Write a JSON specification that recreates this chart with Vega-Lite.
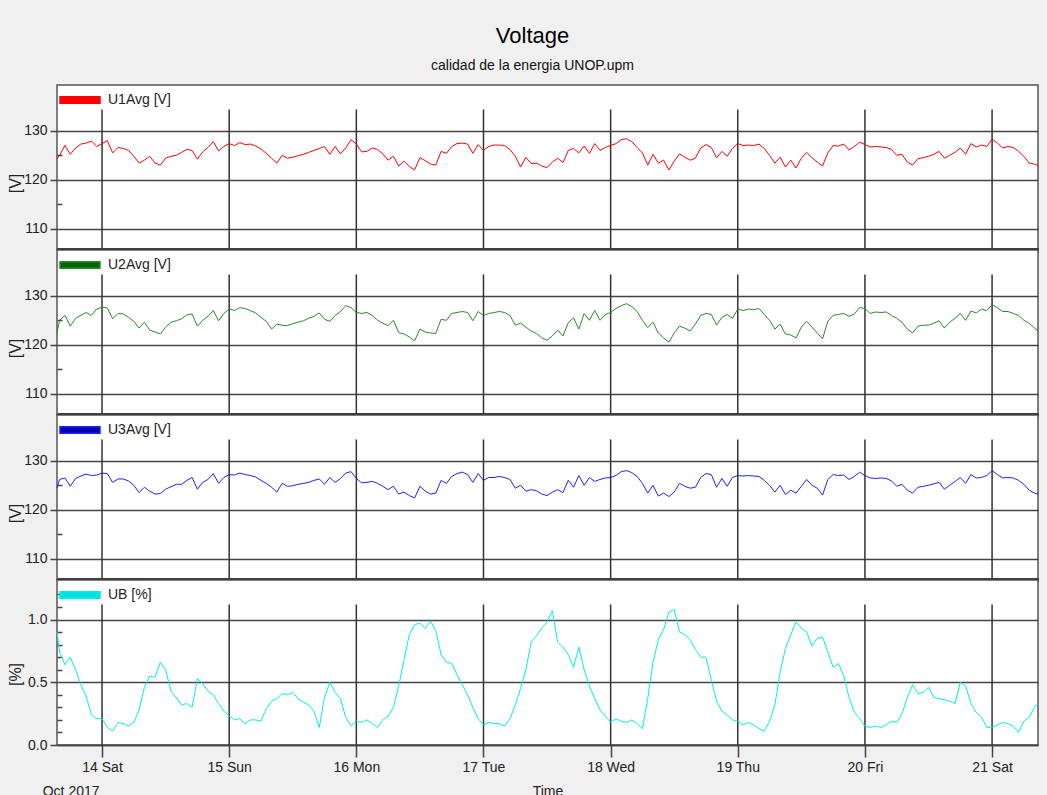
{
"$schema": "https://vega.github.io/schema/vega-lite/v6.json",
"background": "#f0f0f0",
"padding": {"left": 6, "top": 25, "right": 9, "bottom": 0},
"bounds": "flush",
"spacing": 0,
"title": {"text": "Voltage", "subtitle": "calidad de la energia UNOP.upm", "anchor": "middle", "frame": "group", "dx": -15, "font": "Liberation Sans, sans-serif", "fontSize": 22, "fontWeight": "normal", "color": "#000", "subtitleFont": "Liberation Sans, sans-serif", "subtitleFontSize": 14, "subtitleColor": "#111", "subtitlePadding": 11, "offset": 4},
"config": {
  "font": "Liberation Sans, sans-serif",
  "view": {"stroke": "#555", "strokeWidth": 1.5, "fill": "white"},
  "axis": {"labelFont": "Liberation Sans, sans-serif", "labelFontSize": 14, "labelColor": "#222", "titleFont": "Liberation Sans, sans-serif", "titleFontSize": 16, "titleFontWeight": "normal", "titleColor": "#222", "tickColor": "#444", "tickWidth": 1.5, "gridColor": "#444", "gridWidth": 1.5, "domain": false},
  "legend": {"labelFont": "Liberation Sans, sans-serif", "labelFontSize": 14, "labelColor": "#222"}
},
"resolve": {"scale": {"color": "independent"}, "legend": {"color": "independent"}},
"datasets": {
"days": [{"d":"2017-10-14T00:00"},{"d":"2017-10-15T00:00"},{"d":"2017-10-16T00:00"},{"d":"2017-10-17T00:00"},{"d":"2017-10-18T00:00"},{"d":"2017-10-19T00:00"},{"d":"2017-10-20T00:00"},{"d":"2017-10-21T00:00"}],
"notes": [{"t":"2017-10-13T18:10","label":"Oct 2017"}],
"v": [
{"t":"2017-10-13T15:30","u1":124.3,"u2":122.5,"u3":124.5,"ub":0.90},
{"t":"2017-10-13T16:00","u1":125.0,"u2":125.0,"u3":126.2,"ub":0.74},
{"t":"2017-10-13T17:00","u1":127.0,"u2":126.0,"u3":126.5,"ub":0.64},
{"t":"2017-10-13T18:00","u1":125.2,"u2":123.8,"u3":124.8,"ub":0.70},
{"t":"2017-10-13T19:00","u1":126.5,"u2":125.4,"u3":126.4,"ub":0.60},
{"t":"2017-10-13T20:00","u1":127.3,"u2":126.0,"u3":126.9,"ub":0.48},
{"t":"2017-10-13T21:00","u1":127.5,"u2":126.6,"u3":127.3,"ub":0.39},
{"t":"2017-10-13T22:00","u1":127.9,"u2":126.0,"u3":127.0,"ub":0.24},
{"t":"2017-10-13T23:00","u1":126.8,"u2":127.3,"u3":127.1,"ub":0.21},
{"t":"2017-10-14T00:00","u1":127.4,"u2":127.7,"u3":127.5,"ub":0.21},
{"t":"2017-10-14T01:00","u1":128.0,"u2":127.5,"u3":127.4,"ub":0.14},
{"t":"2017-10-14T02:00","u1":125.5,"u2":125.3,"u3":125.6,"ub":0.11},
{"t":"2017-10-14T03:00","u1":126.6,"u2":126.4,"u3":126.3,"ub":0.18},
{"t":"2017-10-14T04:00","u1":126.4,"u2":126.3,"u3":126.3,"ub":0.17},
{"t":"2017-10-14T05:00","u1":126.0,"u2":125.6,"u3":125.9,"ub":0.15},
{"t":"2017-10-14T06:00","u1":124.8,"u2":124.8,"u3":125.0,"ub":0.18},
{"t":"2017-10-14T07:00","u1":123.4,"u2":123.4,"u3":123.5,"ub":0.28},
{"t":"2017-10-14T08:00","u1":124.0,"u2":124.6,"u3":124.6,"ub":0.46},
{"t":"2017-10-14T09:00","u1":124.8,"u2":123.0,"u3":123.8,"ub":0.55},
{"t":"2017-10-14T10:00","u1":123.4,"u2":122.6,"u3":123.2,"ub":0.54},
{"t":"2017-10-14T11:00","u1":123.0,"u2":122.2,"u3":123.3,"ub":0.66},
{"t":"2017-10-14T12:00","u1":124.4,"u2":123.6,"u3":124.2,"ub":0.60},
{"t":"2017-10-14T13:00","u1":124.8,"u2":124.6,"u3":124.7,"ub":0.43},
{"t":"2017-10-14T14:00","u1":125.0,"u2":124.9,"u3":125.2,"ub":0.38},
{"t":"2017-10-14T15:00","u1":125.6,"u2":125.3,"u3":125.2,"ub":0.32},
{"t":"2017-10-14T16:00","u1":126.2,"u2":126.1,"u3":126.0,"ub":0.33},
{"t":"2017-10-14T17:00","u1":126.0,"u2":126.3,"u3":126.6,"ub":0.30},
{"t":"2017-10-14T18:00","u1":124.2,"u2":123.8,"u3":124.2,"ub":0.53},
{"t":"2017-10-14T19:00","u1":125.7,"u2":125.0,"u3":125.6,"ub":0.49},
{"t":"2017-10-14T20:00","u1":126.6,"u2":125.8,"u3":126.2,"ub":0.43},
{"t":"2017-10-14T21:00","u1":127.8,"u2":127.0,"u3":127.4,"ub":0.40},
{"t":"2017-10-14T22:00","u1":125.9,"u2":124.9,"u3":125.4,"ub":0.33},
{"t":"2017-10-14T23:00","u1":126.8,"u2":126.4,"u3":126.6,"ub":0.27},
{"t":"2017-10-15T00:00","u1":127.4,"u2":127.3,"u3":127.2,"ub":0.23},
{"t":"2017-10-15T01:00","u1":127.0,"u2":127.0,"u3":127.1,"ub":0.20},
{"t":"2017-10-15T02:00","u1":127.6,"u2":127.6,"u3":127.5,"ub":0.21},
{"t":"2017-10-15T03:00","u1":127.2,"u2":127.4,"u3":127.2,"ub":0.17},
{"t":"2017-10-15T04:00","u1":127.3,"u2":127.0,"u3":127.0,"ub":0.20},
{"t":"2017-10-15T05:00","u1":126.9,"u2":126.5,"u3":126.7,"ub":0.20},
{"t":"2017-10-15T06:00","u1":126.3,"u2":125.6,"u3":126.0,"ub":0.19},
{"t":"2017-10-15T07:00","u1":125.4,"u2":124.8,"u3":125.4,"ub":0.29},
{"t":"2017-10-15T08:00","u1":124.4,"u2":123.2,"u3":124.6,"ub":0.35},
{"t":"2017-10-15T09:00","u1":123.4,"u2":124.2,"u3":123.6,"ub":0.37},
{"t":"2017-10-15T10:00","u1":125.0,"u2":124.0,"u3":125.4,"ub":0.41},
{"t":"2017-10-15T11:00","u1":124.4,"u2":123.9,"u3":124.8,"ub":0.40},
{"t":"2017-10-15T12:00","u1":124.6,"u2":124.3,"u3":124.9,"ub":0.42},
{"t":"2017-10-15T13:00","u1":124.9,"u2":124.6,"u3":125.2,"ub":0.37},
{"t":"2017-10-15T14:00","u1":125.2,"u2":124.9,"u3":125.4,"ub":0.34},
{"t":"2017-10-15T15:00","u1":125.6,"u2":125.4,"u3":125.6,"ub":0.32},
{"t":"2017-10-15T16:00","u1":126.0,"u2":125.8,"u3":126.0,"ub":0.27},
{"t":"2017-10-15T17:00","u1":126.4,"u2":126.5,"u3":126.3,"ub":0.14},
{"t":"2017-10-15T18:00","u1":126.8,"u2":125.2,"u3":125.2,"ub":0.38},
{"t":"2017-10-15T19:00","u1":125.2,"u2":124.8,"u3":126.6,"ub":0.50},
{"t":"2017-10-15T20:00","u1":126.8,"u2":126.0,"u3":125.6,"ub":0.42},
{"t":"2017-10-15T21:00","u1":125.3,"u2":126.8,"u3":126.4,"ub":0.37},
{"t":"2017-10-15T22:00","u1":126.5,"u2":128.0,"u3":127.5,"ub":0.22},
{"t":"2017-10-15T23:00","u1":128.2,"u2":127.6,"u3":127.8,"ub":0.15},
{"t":"2017-10-16T00:00","u1":127.3,"u2":126.6,"u3":126.4,"ub":0.19},
{"t":"2017-10-16T01:00","u1":125.7,"u2":126.4,"u3":125.5,"ub":0.18},
{"t":"2017-10-16T02:00","u1":125.8,"u2":126.6,"u3":125.6,"ub":0.20},
{"t":"2017-10-16T03:00","u1":126.5,"u2":126.0,"u3":125.8,"ub":0.17},
{"t":"2017-10-16T04:00","u1":126.2,"u2":125.0,"u3":125.4,"ub":0.14},
{"t":"2017-10-16T05:00","u1":125.3,"u2":124.4,"u3":124.8,"ub":0.20},
{"t":"2017-10-16T06:00","u1":124.0,"u2":123.9,"u3":124.1,"ub":0.23},
{"t":"2017-10-16T07:00","u1":124.8,"u2":125.0,"u3":124.8,"ub":0.30},
{"t":"2017-10-16T08:00","u1":122.8,"u2":122.5,"u3":123.2,"ub":0.47},
{"t":"2017-10-16T09:00","u1":123.8,"u2":122.2,"u3":123.6,"ub":0.68},
{"t":"2017-10-16T10:00","u1":122.7,"u2":121.6,"u3":122.9,"ub":0.88},
{"t":"2017-10-16T11:00","u1":122.0,"u2":120.8,"u3":122.4,"ub":0.96},
{"t":"2017-10-16T12:00","u1":124.5,"u2":123.2,"u3":124.8,"ub":0.97},
{"t":"2017-10-16T13:00","u1":123.9,"u2":122.6,"u3":123.8,"ub":0.93},
{"t":"2017-10-16T14:00","u1":123.2,"u2":122.4,"u3":123.2,"ub":0.99},
{"t":"2017-10-16T15:00","u1":123.0,"u2":122.3,"u3":123.4,"ub":0.91},
{"t":"2017-10-16T16:00","u1":125.8,"u2":125.2,"u3":126.0,"ub":0.72},
{"t":"2017-10-16T17:00","u1":125.4,"u2":125.0,"u3":125.4,"ub":0.66},
{"t":"2017-10-16T18:00","u1":126.8,"u2":126.4,"u3":126.8,"ub":0.65},
{"t":"2017-10-16T19:00","u1":127.4,"u2":126.6,"u3":127.4,"ub":0.56},
{"t":"2017-10-16T20:00","u1":127.5,"u2":126.8,"u3":127.7,"ub":0.48},
{"t":"2017-10-16T21:00","u1":127.3,"u2":126.6,"u3":127.2,"ub":0.40},
{"t":"2017-10-16T22:00","u1":125.4,"u2":124.9,"u3":125.6,"ub":0.30},
{"t":"2017-10-16T23:00","u1":127.2,"u2":126.8,"u3":127.4,"ub":0.21},
{"t":"2017-10-17T00:00","u1":126.0,"u2":126.0,"u3":126.0,"ub":0.16},
{"t":"2017-10-17T01:00","u1":126.8,"u2":126.4,"u3":126.6,"ub":0.18},
{"t":"2017-10-17T02:00","u1":127.1,"u2":126.6,"u3":126.6,"ub":0.17},
{"t":"2017-10-17T03:00","u1":127.1,"u2":126.8,"u3":126.8,"ub":0.17},
{"t":"2017-10-17T04:00","u1":127.0,"u2":126.6,"u3":126.6,"ub":0.15},
{"t":"2017-10-17T05:00","u1":126.2,"u2":126.0,"u3":126.2,"ub":0.21},
{"t":"2017-10-17T06:00","u1":124.8,"u2":124.0,"u3":124.4,"ub":0.32},
{"t":"2017-10-17T07:00","u1":122.6,"u2":124.4,"u3":125.0,"ub":0.45},
{"t":"2017-10-17T08:00","u1":124.6,"u2":123.6,"u3":123.8,"ub":0.60},
{"t":"2017-10-17T09:00","u1":123.3,"u2":122.8,"u3":124.1,"ub":0.82},
{"t":"2017-10-17T10:00","u1":123.4,"u2":122.3,"u3":123.9,"ub":0.87},
{"t":"2017-10-17T11:00","u1":122.8,"u2":121.4,"u3":123.2,"ub":0.93},
{"t":"2017-10-17T12:00","u1":122.5,"u2":120.9,"u3":122.9,"ub":0.98},
{"t":"2017-10-17T13:00","u1":123.6,"u2":121.8,"u3":123.6,"ub":1.07},
{"t":"2017-10-17T14:00","u1":124.4,"u2":123.0,"u3":124.1,"ub":0.82},
{"t":"2017-10-17T15:00","u1":123.5,"u2":121.8,"u3":123.5,"ub":0.78},
{"t":"2017-10-17T16:00","u1":126.0,"u2":124.5,"u3":126.0,"ub":0.72},
{"t":"2017-10-17T17:00","u1":126.4,"u2":125.5,"u3":124.6,"ub":0.62},
{"t":"2017-10-17T18:00","u1":125.5,"u2":123.2,"u3":127.0,"ub":0.78},
{"t":"2017-10-17T19:00","u1":126.9,"u2":126.4,"u3":125.0,"ub":0.60},
{"t":"2017-10-17T20:00","u1":125.4,"u2":125.0,"u3":126.6,"ub":0.47},
{"t":"2017-10-17T21:00","u1":127.4,"u2":127.0,"u3":125.8,"ub":0.37},
{"t":"2017-10-17T22:00","u1":126.0,"u2":125.0,"u3":126.2,"ub":0.28},
{"t":"2017-10-17T23:00","u1":126.6,"u2":126.2,"u3":126.5,"ub":0.23},
{"t":"2017-10-18T00:00","u1":127.0,"u2":126.6,"u3":126.6,"ub":0.18},
{"t":"2017-10-18T01:00","u1":127.4,"u2":127.4,"u3":127.0,"ub":0.21},
{"t":"2017-10-18T02:00","u1":128.2,"u2":128.0,"u3":127.8,"ub":0.19},
{"t":"2017-10-18T03:00","u1":128.4,"u2":128.4,"u3":128.0,"ub":0.18},
{"t":"2017-10-18T04:00","u1":127.8,"u2":127.8,"u3":127.6,"ub":0.20},
{"t":"2017-10-18T05:00","u1":126.6,"u2":126.8,"u3":126.8,"ub":0.17},
{"t":"2017-10-18T06:00","u1":125.5,"u2":125.0,"u3":125.4,"ub":0.13},
{"t":"2017-10-18T07:00","u1":123.0,"u2":123.5,"u3":123.4,"ub":0.37},
{"t":"2017-10-18T08:00","u1":125.2,"u2":124.6,"u3":125.0,"ub":0.66},
{"t":"2017-10-18T09:00","u1":123.4,"u2":122.4,"u3":122.8,"ub":0.84},
{"t":"2017-10-18T10:00","u1":124.0,"u2":121.4,"u3":123.4,"ub":0.92},
{"t":"2017-10-18T11:00","u1":122.0,"u2":120.5,"u3":122.7,"ub":1.06},
{"t":"2017-10-18T12:00","u1":123.8,"u2":122.4,"u3":123.6,"ub":1.08},
{"t":"2017-10-18T13:00","u1":125.3,"u2":123.8,"u3":125.4,"ub":0.90},
{"t":"2017-10-18T14:00","u1":124.6,"u2":123.4,"u3":124.8,"ub":0.88},
{"t":"2017-10-18T15:00","u1":124.0,"u2":122.8,"u3":124.4,"ub":0.84},
{"t":"2017-10-18T16:00","u1":124.4,"u2":124.2,"u3":124.6,"ub":0.76},
{"t":"2017-10-18T17:00","u1":126.5,"u2":126.0,"u3":126.6,"ub":0.70},
{"t":"2017-10-18T18:00","u1":127.2,"u2":126.4,"u3":127.4,"ub":0.70},
{"t":"2017-10-18T19:00","u1":126.6,"u2":126.2,"u3":127.2,"ub":0.52},
{"t":"2017-10-18T20:00","u1":124.5,"u2":124.0,"u3":124.6,"ub":0.35},
{"t":"2017-10-18T21:00","u1":125.8,"u2":125.6,"u3":126.4,"ub":0.27},
{"t":"2017-10-18T22:00","u1":124.8,"u2":126.2,"u3":124.8,"ub":0.24},
{"t":"2017-10-18T23:00","u1":126.4,"u2":125.4,"u3":126.6,"ub":0.20},
{"t":"2017-10-19T00:00","u1":127.4,"u2":127.3,"u3":127.0,"ub":0.19},
{"t":"2017-10-19T01:00","u1":127.0,"u2":127.0,"u3":126.9,"ub":0.16},
{"t":"2017-10-19T02:00","u1":127.1,"u2":127.3,"u3":127.0,"ub":0.18},
{"t":"2017-10-19T03:00","u1":127.0,"u2":127.2,"u3":126.9,"ub":0.16},
{"t":"2017-10-19T04:00","u1":127.3,"u2":127.4,"u3":126.8,"ub":0.13},
{"t":"2017-10-19T05:00","u1":126.4,"u2":126.2,"u3":126.0,"ub":0.11},
{"t":"2017-10-19T06:00","u1":125.0,"u2":125.0,"u3":125.0,"ub":0.19},
{"t":"2017-10-19T07:00","u1":123.4,"u2":123.2,"u3":123.6,"ub":0.32},
{"t":"2017-10-19T08:00","u1":124.6,"u2":124.2,"u3":125.0,"ub":0.58},
{"t":"2017-10-19T09:00","u1":122.6,"u2":122.2,"u3":123.1,"ub":0.77},
{"t":"2017-10-19T10:00","u1":124.0,"u2":122.0,"u3":124.0,"ub":0.88},
{"t":"2017-10-19T11:00","u1":122.4,"u2":121.4,"u3":123.4,"ub":0.98},
{"t":"2017-10-19T12:00","u1":124.4,"u2":123.6,"u3":124.8,"ub":0.93},
{"t":"2017-10-19T13:00","u1":125.6,"u2":124.8,"u3":126.2,"ub":0.90},
{"t":"2017-10-19T14:00","u1":124.5,"u2":123.6,"u3":125.0,"ub":0.79},
{"t":"2017-10-19T15:00","u1":123.6,"u2":122.4,"u3":124.4,"ub":0.85},
{"t":"2017-10-19T16:00","u1":122.8,"u2":121.2,"u3":123.0,"ub":0.86},
{"t":"2017-10-19T17:00","u1":125.5,"u2":124.8,"u3":126.2,"ub":0.74},
{"t":"2017-10-19T18:00","u1":127.0,"u2":126.0,"u3":127.2,"ub":0.62},
{"t":"2017-10-19T19:00","u1":126.9,"u2":126.2,"u3":127.0,"ub":0.65},
{"t":"2017-10-19T20:00","u1":127.3,"u2":126.4,"u3":127.1,"ub":0.55},
{"t":"2017-10-19T21:00","u1":126.1,"u2":125.8,"u3":126.2,"ub":0.38},
{"t":"2017-10-19T22:00","u1":126.8,"u2":126.3,"u3":126.8,"ub":0.26},
{"t":"2017-10-19T23:00","u1":127.7,"u2":127.6,"u3":127.7,"ub":0.21},
{"t":"2017-10-20T00:00","u1":127.2,"u2":127.4,"u3":127.0,"ub":0.15},
{"t":"2017-10-20T01:00","u1":126.7,"u2":126.4,"u3":126.5,"ub":0.14},
{"t":"2017-10-20T02:00","u1":126.8,"u2":126.7,"u3":126.4,"ub":0.15},
{"t":"2017-10-20T03:00","u1":126.7,"u2":126.6,"u3":126.5,"ub":0.14},
{"t":"2017-10-20T04:00","u1":126.6,"u2":126.7,"u3":126.4,"ub":0.16},
{"t":"2017-10-20T05:00","u1":126.2,"u2":126.0,"u3":125.9,"ub":0.19},
{"t":"2017-10-20T06:00","u1":125.0,"u2":125.4,"u3":124.8,"ub":0.18},
{"t":"2017-10-20T07:00","u1":125.2,"u2":124.6,"u3":125.2,"ub":0.25},
{"t":"2017-10-20T08:00","u1":123.6,"u2":123.2,"u3":124.0,"ub":0.38},
{"t":"2017-10-20T09:00","u1":123.0,"u2":122.4,"u3":123.4,"ub":0.48},
{"t":"2017-10-20T10:00","u1":124.3,"u2":123.8,"u3":124.6,"ub":0.41},
{"t":"2017-10-20T11:00","u1":124.5,"u2":124.0,"u3":124.8,"ub":0.42},
{"t":"2017-10-20T12:00","u1":124.8,"u2":124.0,"u3":125.0,"ub":0.46},
{"t":"2017-10-20T13:00","u1":125.2,"u2":124.4,"u3":125.3,"ub":0.38},
{"t":"2017-10-20T14:00","u1":125.8,"u2":124.9,"u3":125.6,"ub":0.37},
{"t":"2017-10-20T15:00","u1":124.4,"u2":123.4,"u3":124.2,"ub":0.36},
{"t":"2017-10-20T16:00","u1":125.0,"u2":124.6,"u3":125.0,"ub":0.35},
{"t":"2017-10-20T17:00","u1":125.6,"u2":125.4,"u3":125.8,"ub":0.33},
{"t":"2017-10-20T18:00","u1":126.5,"u2":126.4,"u3":126.6,"ub":0.50},
{"t":"2017-10-20T19:00","u1":125.2,"u2":125.0,"u3":125.4,"ub":0.47},
{"t":"2017-10-20T20:00","u1":127.4,"u2":126.9,"u3":127.2,"ub":0.33},
{"t":"2017-10-20T21:00","u1":126.7,"u2":126.5,"u3":126.5,"ub":0.26},
{"t":"2017-10-20T22:00","u1":127.1,"u2":127.3,"u3":126.6,"ub":0.22},
{"t":"2017-10-20T23:00","u1":126.8,"u2":127.0,"u3":127.0,"ub":0.14},
{"t":"2017-10-21T00:00","u1":128.3,"u2":128.2,"u3":128.0,"ub":0.14},
{"t":"2017-10-21T01:00","u1":127.5,"u2":127.6,"u3":127.2,"ub":0.16},
{"t":"2017-10-21T02:00","u1":126.5,"u2":126.8,"u3":126.5,"ub":0.18},
{"t":"2017-10-21T03:00","u1":126.8,"u2":126.8,"u3":126.6,"ub":0.17},
{"t":"2017-10-21T04:00","u1":126.6,"u2":126.4,"u3":126.5,"ub":0.15},
{"t":"2017-10-21T05:00","u1":125.8,"u2":126.0,"u3":126.0,"ub":0.10},
{"t":"2017-10-21T06:00","u1":124.8,"u2":125.0,"u3":125.2,"ub":0.19},
{"t":"2017-10-21T07:00","u1":123.4,"u2":124.4,"u3":124.0,"ub":0.22},
{"t":"2017-10-21T08:00","u1":123.2,"u2":123.4,"u3":123.4,"ub":0.30},
{"t":"2017-10-21T08:40","u1":122.9,"u2":122.9,"u3":123.2,"ub":0.33}
]
},
"vconcat": [
{
 "width": 981, "height": 165,
 "resolve": {"axis": {"y": "independent"}},
 "layer": [
  {"data": {"name": "days"}, "mark": {"type": "rule", "color": "#333", "strokeWidth": 1.5},
   "encoding": {
    "x": {"field": "d", "type": "temporal", "scale": {"domain": [{"year":2017,"month":10,"date":13,"hours":15,"minutes":30},{"year":2017,"month":10,"date":21,"hours":8,"minutes":40}]}, "axis": {"orient": "bottom", "domain": true, "domainColor": "#000", "domainWidth": 4.5, "ticks": false, "labels": false, "grid": false, "title": null}},
    "y": {"datum": 105.6, "type": "quantitative", "scale": {"domain": [105.6, 139.4], "nice": false, "zero": false}, "axis": {"orient": "left", "values": [115, 125], "labels": false, "grid": false, "tickSize": -5, "title": null}},
    "y2": {"datum": 134.4}}},
  {"data": {"name": "v"}, "mark": {"type": "line", "color": "#ff0000", "strokeWidth": 1},
   "encoding": {
    "x": {"field": "t", "type": "temporal", "axis": {"orient": "bottom", "domain": true, "domainColor": "#000", "domainWidth": 4.5, "ticks": false, "labels": false, "grid": false, "title": null}},
    "y": {"field": "u1", "type": "quantitative", "axis": {"orient": "left", "values": [110, 120, 130], "title": "[V]", "titleX": -37, "titleY": 98, "titleBaseline": "alphabetic", "grid": true, "tickSize": 7, "labelPadding": 3}},
    "color": {"datum": "U1Avg [V]", "type": "nominal", "scale": {"range": ["#ff0000"]}, "legend": {"orient": "none", "legendX": 2, "legendY": -6, "title": null, "padding": 0, "symbolType": "M-1,-0.16H1V0.16H-1Z", "symbolSize": 1600, "labelOffset": 7, "encode": {"symbols": {"update": {"fill": {"value": "#ff0000"}, "stroke": {"value": "#333"}, "strokeWidth": {"value": 1.5}}}}}}}}
 ]
},
{
 "width": 981, "height": 165,
 "resolve": {"axis": {"y": "independent"}},
 "layer": [
  {"data": {"name": "days"}, "mark": {"type": "rule", "color": "#333", "strokeWidth": 1.5},
   "encoding": {
    "x": {"field": "d", "type": "temporal", "scale": {"domain": [{"year":2017,"month":10,"date":13,"hours":15,"minutes":30},{"year":2017,"month":10,"date":21,"hours":8,"minutes":40}]}, "axis": {"orient": "bottom", "domain": true, "domainColor": "#000", "domainWidth": 4.5, "ticks": false, "labels": false, "grid": false, "title": null}},
    "y": {"datum": 105.6, "type": "quantitative", "scale": {"domain": [105.6, 139.4], "nice": false, "zero": false}, "axis": {"orient": "left", "values": [115, 125], "labels": false, "grid": false, "tickSize": -5, "title": null}},
    "y2": {"datum": 134.4}}},
  {"data": {"name": "v"}, "mark": {"type": "line", "color": "#2a8a2a", "strokeWidth": 1},
   "encoding": {
    "x": {"field": "t", "type": "temporal", "axis": {"orient": "bottom", "domain": true, "domainColor": "#000", "domainWidth": 4.5, "ticks": false, "labels": false, "grid": false, "title": null}},
    "y": {"field": "u2", "type": "quantitative", "axis": {"orient": "left", "values": [110, 120, 130], "title": "[V]", "titleX": -37, "titleY": 98, "titleBaseline": "alphabetic", "grid": true, "tickSize": 7, "labelPadding": 3}},
    "color": {"datum": "U2Avg [V]", "type": "nominal", "scale": {"range": ["#2a8a2a"]}, "legend": {"orient": "none", "legendX": 2, "legendY": -6, "title": null, "padding": 0, "symbolType": "M-1,-0.16H1V0.16H-1Z", "symbolSize": 1600, "labelOffset": 7, "encode": {"symbols": {"update": {"fill": {"value": "#006400"}, "stroke": {"value": "#333"}, "strokeWidth": {"value": 1.5}}}}}}}}
 ]
},
{
 "width": 981, "height": 165,
 "resolve": {"axis": {"y": "independent"}},
 "layer": [
  {"data": {"name": "days"}, "mark": {"type": "rule", "color": "#333", "strokeWidth": 1.5},
   "encoding": {
    "x": {"field": "d", "type": "temporal", "scale": {"domain": [{"year":2017,"month":10,"date":13,"hours":15,"minutes":30},{"year":2017,"month":10,"date":21,"hours":8,"minutes":40}]}, "axis": {"orient": "bottom", "domain": true, "domainColor": "#000", "domainWidth": 4.5, "ticks": false, "labels": false, "grid": false, "title": null}},
    "y": {"datum": 105.6, "type": "quantitative", "scale": {"domain": [105.6, 139.4], "nice": false, "zero": false}, "axis": {"orient": "left", "values": [115, 125], "labels": false, "grid": false, "tickSize": -5, "title": null}},
    "y2": {"datum": 134.4}}},
  {"data": {"name": "v"}, "mark": {"type": "line", "color": "#2020ff", "strokeWidth": 1},
   "encoding": {
    "x": {"field": "t", "type": "temporal", "axis": {"orient": "bottom", "domain": true, "domainColor": "#000", "domainWidth": 4.5, "ticks": false, "labels": false, "grid": false, "title": null}},
    "y": {"field": "u3", "type": "quantitative", "axis": {"orient": "left", "values": [110, 120, 130], "title": "[V]", "titleX": -37, "titleY": 98, "titleBaseline": "alphabetic", "grid": true, "tickSize": 7, "labelPadding": 3}},
    "color": {"datum": "U3Avg [V]", "type": "nominal", "scale": {"range": ["#2020ff"]}, "legend": {"orient": "none", "legendX": 2, "legendY": -6, "title": null, "padding": 0, "symbolType": "M-1,-0.16H1V0.16H-1Z", "symbolSize": 1600, "labelOffset": 7, "encode": {"symbols": {"update": {"fill": {"value": "#0000a8"}, "stroke": {"value": "#333"}, "strokeWidth": {"value": 1.5}}}}}}}}
 ]
},
{
 "width": 981, "height": 165,
 "resolve": {"axis": {"y": "independent"}},
 "layer": [
  {"data": {"name": "days"}, "mark": {"type": "rule", "color": "#333", "strokeWidth": 1.5},
   "encoding": {
    "x": {"field": "d", "type": "temporal", "scale": {"domain": [{"year":2017,"month":10,"date":13,"hours":15,"minutes":30},{"year":2017,"month":10,"date":21,"hours":8,"minutes":40}]}, "axis": {"orient": "bottom", "domain": true, "domainColor": "#444", "domainWidth": 1.5, "tickCount": {"interval": "day", "step": 1}, "format": "%d %a", "labelOverlap": false, "labelBound": false, "labelFlush": false, "tickSize": 12, "labelPadding": 3, "grid": false, "title": "Time", "titleFont": "Liberation Sans, sans-serif", "titleFontSize": 14, "titlePadding": 10}},
    "y": {"datum": 0, "type": "quantitative", "scale": {"domain": [0, 1.315], "nice": false, "zero": false}, "axis": {"orient": "left", "values": [0.1, 0.2, 0.3, 0.4, 0.6, 0.7, 0.8, 0.9, 1.1, 1.2], "labels": false, "grid": false, "tickSize": -5, "title": null}},
    "y2": {"datum": 1.12}}},
  {"data": {"name": "notes"}, "mark": {"type": "text", "fontSize": 14, "color": "#222", "align": "center", "baseline": "middle", "clip": false},
   "encoding": {
    "x": {"field": "t", "type": "temporal"},
    "y": {"datum": -0.375, "type": "quantitative", "axis": null},
    "text": {"field": "label"}}},
  {"data": {"name": "v"}, "mark": {"type": "line", "color": "#00eeee", "strokeWidth": 1},
   "encoding": {
    "x": {"field": "t", "type": "temporal", "axis": {"orient": "bottom", "domain": true, "domainColor": "#444", "domainWidth": 1.5, "tickCount": {"interval": "day", "step": 1}, "format": "%d %a", "labelOverlap": false, "labelBound": false, "labelFlush": false, "tickSize": 12, "labelPadding": 3, "grid": false, "title": "Time", "titleFont": "Liberation Sans, sans-serif", "titleFontSize": 14, "titlePadding": 10}},
    "y": {"field": "ub", "type": "quantitative", "axis": {"orient": "left", "values": [0, 0.5, 1.0], "format": ".1f", "title": "[%]", "titleX": -37, "titleY": 94, "titleBaseline": "alphabetic", "grid": true, "tickSize": 7, "labelPadding": 3}},
    "color": {"datum": "UB [%]", "type": "nominal", "scale": {"range": ["#00eeee"]}, "legend": {"orient": "none", "legendX": 2, "legendY": -6, "title": null, "padding": 0, "symbolType": "M-1,-0.16H1V0.16H-1Z", "symbolSize": 1600, "labelOffset": 7, "encode": {"symbols": {"update": {"fill": {"value": "#00e0e0"}, "stroke": {"value": "#333"}, "strokeWidth": {"value": 1.5}}}}}}}}
 ]
}
]
}
